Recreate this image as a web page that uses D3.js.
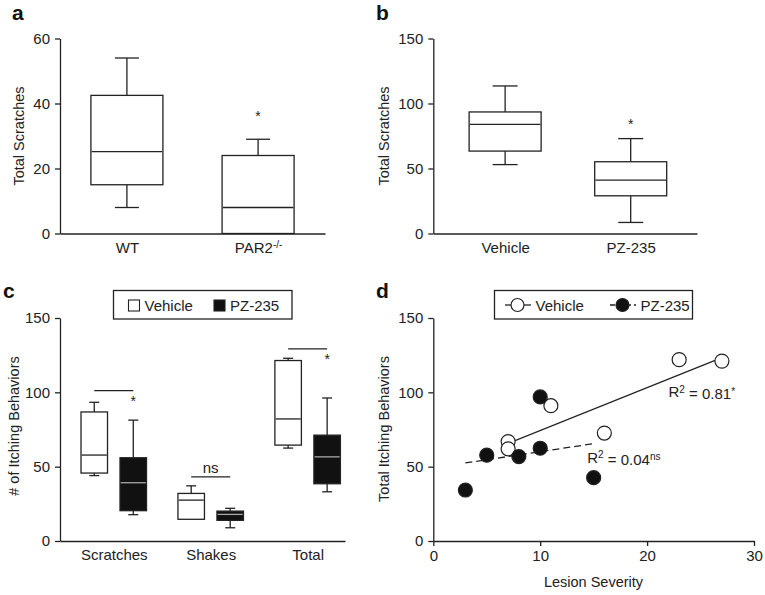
<!DOCTYPE html>
<html>
<head>
<meta charset="utf-8">
<script src="https://cdn.jsdelivr.net/npm/d3@7"></script>
<style>
  body { margin: 0; background: #fff; }
  svg { display: block; font-family: "Liberation Sans", Arial, Helvetica, sans-serif; }
</style>
</head>
<body>
<svg id="chart" width="765" height="595"></svg>
<script>
// ---- panel a : total scratches, WT vs PAR2-/-
var groupsA = ["WT", "PAR2"];
var minA = [8, 0], q1A = [15, 0], medA = [25.2, 8], q3A = [42.5, 24], maxA = [54, 29];
var ticksA = [0, 20, 40, 60];
var starA = [null, 37];

// ---- panel b : total scratches, Vehicle vs PZ-235
var groupsB = ["Vehicle", "PZ-235"];
var minB = [53, 8.5], q1B = [63.4, 29], medB = [84, 41], q3B = [93.5, 55.2], maxB = [113.5, 73];
var ticksB = [0, 50, 100, 150];
var starB = [null, 86.5];

// ---- panel c : itching behaviours by type
var groupsC = ["Scratches", "Shakes", "Total"];
var seriesC = ["Vehicle", "PZ-235"];
var minVehC = [44, 14.6, 62.5], q1VehC = [45.7, 14.6, 64.5], medVehC = [57.8, 27.5, 82.1],
    q3VehC = [86.8, 32, 121.4], maxVehC = [93.3, 37.1, 122.9];
var minPzC = [17.7, 8.9, 33.1], q1PzC = [20.4, 13.9, 38.5], medPzC = [39.2, 17.9, 56.6],
    q3PzC = [56, 20.1, 71.2], maxPzC = [81.3, 22, 96.2];
var sigC = [101.2, 43.2, 129.2], sigLabelC = ["*", "ns", "*"];
var ticksC = [0, 50, 100, 150];

// ---- panel d : lesion severity vs itching
var vehX = [23, 27, 11, 16, 7, 7], vehY = [122, 121, 91, 72.6, 66.9, 62];
var pzX = [10, 5, 8, 10, 15, 3], pzY = [96.9, 57.7, 56.8, 62.4, 42.6, 34.3];
var ticksDx = [0, 10, 20, 30], ticksDy = [0, 50, 100, 150];

var ink = "#222";
var svg = d3.select("#chart");

function styleAxis(g, size) {
  g.attr("font-family", null).attr("font-size", null);
  g.selectAll("path, line").attr("stroke", ink).attr("stroke-width", 1.3);
  g.selectAll("text").attr("fill", ink).style("font-size", size + "px");
}

function yAxis(y, ticks, left) {
  var g = svg.append("g").attr("transform", "translate(" + left + ",0)")
    .call(d3.axisLeft(y).tickValues(ticks).tickSize(5).tickPadding(5).tickSizeOuter(0));
  styleAxis(g, 15);
  return g;
}

function xAxisCat(x, bottom) {
  var g = svg.append("g").attr("transform", "translate(0," + bottom + ")")
    .call(d3.axisBottom(x).tickSize(0).tickPadding(8.5).tickSizeOuter(0));
  styleAxis(g, 15);
  return g;
}

function yTitle(txt, cx, cy) {
  svg.append("text").attr("transform", "translate(" + cx + "," + cy + ") rotate(-90)")
    .attr("text-anchor", "middle").attr("dy", "0.35em")
    .style("font-size", "14.5px").attr("fill", ink).text(txt);
}

function panelLetter(txt, x, y) {
  svg.append("text").attr("x", x).attr("y", y).style("font-size", "21px")
    .attr("font-weight", "bold").attr("fill", "#111").text(txt);
}

function drawBoxes(data, y, w, cap, fill, medColor) {
  var g = svg.append("g").attr("stroke", ink).attr("stroke-width", 1.3);
  data.forEach(function (d) {
    if (d.max > d.q3) {
      g.append("line").attr("x1", d.x).attr("x2", d.x).attr("y1", y(d.q3)).attr("y2", y(d.max));
      g.append("line").attr("x1", d.x - cap / 2).attr("x2", d.x + cap / 2).attr("y1", y(d.max)).attr("y2", y(d.max));
    }
    if (d.min < d.q1) {
      g.append("line").attr("x1", d.x).attr("x2", d.x).attr("y1", y(d.q1)).attr("y2", y(d.min));
      g.append("line").attr("x1", d.x - cap / 2).attr("x2", d.x + cap / 2).attr("y1", y(d.min)).attr("y2", y(d.min));
    }
    g.append("rect").attr("x", d.x - w / 2).attr("y", y(d.q3))
      .attr("width", w).attr("height", y(d.q1) - y(d.q3)).attr("fill", fill);
    g.append("line").attr("x1", d.x - w / 2 + 0.7).attr("x2", d.x + w / 2 - 0.7)
      .attr("y1", y(d.med)).attr("y2", y(d.med)).attr("stroke", medColor);
  });
}

function stats(keys, x, mins, q1s, meds, q3s, maxs, off) {
  return keys.map(function (k, i) {
    return { x: x(k) + (off || 0), min: mins[i], q1: q1s[i], med: meds[i], q3: q3s[i], max: maxs[i] };
  });
}

// ================= panel a =================
var xA = d3.scalePoint().domain(groupsA).range([60, 325]).padding(0.51);
var yA = d3.scaleLinear().domain([0, 60]).range([233.5, 38.5]);
drawBoxes(stats(groupsA, xA, minA, q1A, medA, q3A, maxA), yA, 72, 24, "#fff", ink);
yAxis(yA, ticksA, 60);
var axA = xAxisCat(xA, 233.5);
axA.selectAll(".tick text").filter(function (d) { return d === "PAR2"; })
  .each(function () {
    var t = d3.select(this).text("PAR2");
    t.append("tspan").attr("dy", "-0.45em").style("font-size", "10px").text("-/-");
  });
svg.append("g").selectAll("text").data(groupsA.filter(function (g, i) { return starA[i] != null; }))
  .enter().append("text")
  .attr("x", function (d) { return xA(d); })
  .attr("y", function (d) { return yA(starA[groupsA.indexOf(d)]) + 8; })
  .attr("text-anchor", "middle").style("font-size", "14px").attr("fill", ink).text("*");
yTitle("Total Scratches", 19, 136);
panelLetter("a", 12, 20);

// ================= panel b =================
var xB = d3.scalePoint().domain(groupsB).range([433.3, 697]).padding(0.55).align(0.52);
var yB = d3.scaleLinear().domain([0, 150]).range([233.5, 38.5]);
drawBoxes(stats(groupsB, xB, minB, q1B, medB, q3B, maxB), yB, 72, 25, "#fff", ink);
yAxis(yB, ticksB, 433.3);
xAxisCat(xB, 233.5);
svg.append("g").selectAll("text").data(groupsB.filter(function (g, i) { return starB[i] != null; }))
  .enter().append("text")
  .attr("x", function (d) { return xB(d); })
  .attr("y", function (d) { return yB(starB[groupsB.indexOf(d)]) + 8; })
  .attr("text-anchor", "middle").style("font-size", "14px").attr("fill", ink).text("*");
yTitle("Total Scratches", 383.5, 136);
panelLetter("b", 376, 20);

// ================= panel c =================
var xC = d3.scalePoint().domain(groupsC).range([60, 345]).padding(0.47).align(0.59);
var yC = d3.scaleLinear().domain([0, 150]).range([541, 318]);
var offC = 19.5;
drawBoxes(stats(groupsC, xC, minVehC, q1VehC, medVehC, q3VehC, maxVehC, -offC), yC, 26.5, 10, "#fff", ink);
drawBoxes(stats(groupsC, xC, minPzC, q1PzC, medPzC, q3PzC, maxPzC, offC), yC, 26.5, 10, "#111", "#a8a8a8");
yAxis(yC, ticksC, 60);
xAxisCat(xC, 541);

var sig = svg.append("g");
groupsC.forEach(function (g, i) {
  sig.append("line").attr("x1", xC(g) - offC).attr("x2", xC(g) + offC)
    .attr("y1", yC(sigC[i])).attr("y2", yC(sigC[i]))
    .attr("stroke", ink).attr("stroke-width", 1.3);
  if (sigLabelC[i] === "ns") {
    sig.append("text").attr("x", xC(g)).attr("y", yC(sigC[i]) - 3.5)
      .attr("text-anchor", "middle").style("font-size", "15px").attr("fill", ink).text("ns");
  } else {
    sig.append("text").attr("x", xC(g) + offC).attr("y", yC(sigC[i]) + 15)
      .attr("text-anchor", "middle").style("font-size", "14px").attr("fill", ink).text("*");
  }
});

// legend c
var legC = svg.append("g");
legC.append("rect").attr("x", 113.5).attr("y", 290.5).attr("width", 178.5).attr("height", 28.5)
  .attr("fill", "#fff").attr("stroke", ink).attr("stroke-width", 1.3);
var legCx = [128.5, 214];
seriesC.forEach(function (s, i) {
  legC.append("rect").attr("x", legCx[i]).attr("y", 300).attr("width", 11).attr("height", 11)
    .attr("fill", i === 0 ? "#fff" : "#111").attr("stroke", ink).attr("stroke-width", 1.1);
  legC.append("text").attr("x", legCx[i] + 16).attr("y", 310.5)
    .style("font-size", "15px").attr("fill", ink).text(s);
});
yTitle("# of Itching Behaviors", 14, 426);
panelLetter("c", 3, 298);

// ================= panel d =================
var xD = d3.scaleLinear().domain([0, 30]).range([433.3, 754]);
var yD = d3.scaleLinear().domain([0, 150]).range([541, 318]);

function fit(xs, ys) {
  var mx = d3.mean(xs), my = d3.mean(ys), sxy = 0, sxx = 0;
  xs.forEach(function (x, i) { sxy += (x - mx) * (ys[i] - my); sxx += (x - mx) * (x - mx); });
  var b = sxy / sxx, a = my - b * mx;
  var lo = d3.min(xs), hi = d3.max(xs);
  return [[lo, a + b * lo], [hi, a + b * hi]];
}
var line = d3.line().x(function (d) { return xD(d[0]); }).y(function (d) { return yD(d[1]); });
svg.append("path").attr("d", line(fit(vehX, vehY))).attr("fill", "none")
  .attr("stroke", ink).attr("stroke-width", 1.3);
svg.append("path").attr("d", line(fit(pzX, pzY))).attr("fill", "none")
  .attr("stroke", ink).attr("stroke-width", 1.3).attr("stroke-dasharray", "7,4");

svg.append("g").selectAll("circle").data(d3.zip(vehX, vehY)).enter().append("circle")
  .attr("cx", function (d) { return xD(d[0]); }).attr("cy", function (d) { return yD(d[1]); })
  .attr("r", 7).attr("fill", "#fff").attr("stroke", ink).attr("stroke-width", 1.2);
svg.append("g").selectAll("circle").data(d3.zip(pzX, pzY)).enter().append("circle")
  .attr("cx", function (d) { return xD(d[0]); }).attr("cy", function (d) { return yD(d[1]); })
  .attr("r", 7).attr("fill", "#111").attr("stroke", ink).attr("stroke-width", 1.2);

var gdy = svg.append("g").attr("transform", "translate(433.3,0)")
  .call(d3.axisLeft(yD).tickValues(ticksDy).tickSize(5).tickPadding(5).tickSizeOuter(0));
styleAxis(gdy, 15);
var gdx = svg.append("g").attr("transform", "translate(0,541)")
  .call(d3.axisBottom(xD).tickValues(ticksDx).tickSize(5).tickPadding(4).tickSizeOuter(0));
styleAxis(gdx, 15);

function r2(xv, yv, val, sup) {
  var t = svg.append("text").attr("x", xD(xv)).attr("y", yD(yv))
    .style("font-size", "15px").attr("fill", ink);
  t.append("tspan").text("R");
  t.append("tspan").attr("dy", "-0.45em").style("font-size", "10px").text("2");
  t.append("tspan").attr("dy", "0.45em").text(" = " + val);
  t.append("tspan").attr("dy", "-0.45em").style("font-size", "10px").text(sup);
}
r2(22, 96.8, "0.81", "*");
r2(14.4, 52.8, "0.04", "ns");

// legend d
var legD = svg.append("g");
legD.append("rect").attr("x", 494.5).attr("y", 290.5).attr("width", 198).attr("height", 28.5)
  .attr("fill", "#fff").attr("stroke", ink).attr("stroke-width", 1.3);
var legDx = [505, 610];
seriesC.forEach(function (s, i) {
  legD.append("line").attr("x1", legDx[i]).attr("x2", legDx[i] + 26).attr("y1", 305).attr("y2", 305)
    .attr("stroke", ink).attr("stroke-width", 1.3).attr("stroke-dasharray", i === 0 ? null : "5,3");
  legD.append("circle").attr("cx", legDx[i] + 12.5).attr("cy", 305).attr("r", 6.5)
    .attr("fill", i === 0 ? "#fff" : "#111").attr("stroke", ink).attr("stroke-width", 1.2);
  legD.append("text").attr("x", legDx[i] + 30.5).attr("y", 310.5)
    .style("font-size", "15px").attr("fill", ink).text(s);
});

yTitle("Total Itching Behaviors", 384, 429);
svg.append("text").attr("x", 593.5).attr("y", 587).attr("text-anchor", "middle")
  .style("font-size", "14.5px").attr("fill", ink).text("Lesion Severity");
panelLetter("d", 376, 298);
</script>
</body>
</html>
